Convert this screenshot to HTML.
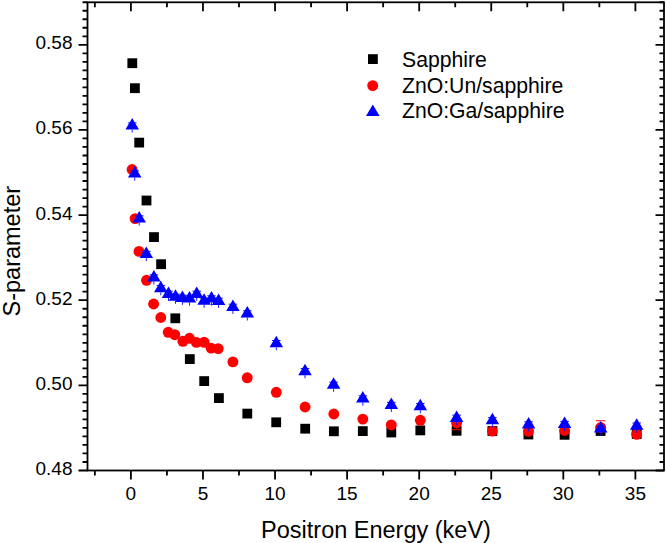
<!DOCTYPE html><html><head><meta charset="utf-8"><style>html,body{margin:0;padding:0;background:#fff;overflow:hidden}svg{display:block}text{font-family:"Liberation Sans",sans-serif;fill:#000}</style></head><body>
<svg width="666" height="543" viewBox="0 0 666 543">
<rect width="666" height="543" fill="#fff"/>
<path d="M78.50 470.50H87.50M664.00 470.50H655.50M82.50 461.99H87.50M664.00 461.99H659.50M82.50 453.47H87.50M664.00 453.47H659.50M82.50 444.96H87.50M664.00 444.96H659.50M82.50 436.44H87.50M664.00 436.44H659.50M82.50 427.93H87.50M664.00 427.93H659.50M82.50 419.42H87.50M664.00 419.42H659.50M82.50 410.90H87.50M664.00 410.90H659.50M82.50 402.39H87.50M664.00 402.39H659.50M82.50 393.87H87.50M664.00 393.87H659.50M78.50 385.36H87.50M664.00 385.36H655.50M82.50 376.85H87.50M664.00 376.85H659.50M82.50 368.33H87.50M664.00 368.33H659.50M82.50 359.82H87.50M664.00 359.82H659.50M82.50 351.30H87.50M664.00 351.30H659.50M82.50 342.79H87.50M664.00 342.79H659.50M82.50 334.28H87.50M664.00 334.28H659.50M82.50 325.76H87.50M664.00 325.76H659.50M82.50 317.25H87.50M664.00 317.25H659.50M82.50 308.73H87.50M664.00 308.73H659.50M78.50 300.22H87.50M664.00 300.22H655.50M82.50 291.71H87.50M664.00 291.71H659.50M82.50 283.19H87.50M664.00 283.19H659.50M82.50 274.68H87.50M664.00 274.68H659.50M82.50 266.16H87.50M664.00 266.16H659.50M82.50 257.65H87.50M664.00 257.65H659.50M82.50 249.14H87.50M664.00 249.14H659.50M82.50 240.62H87.50M664.00 240.62H659.50M82.50 232.11H87.50M664.00 232.11H659.50M82.50 223.59H87.50M664.00 223.59H659.50M78.50 215.08H87.50M664.00 215.08H655.50M82.50 206.57H87.50M664.00 206.57H659.50M82.50 198.05H87.50M664.00 198.05H659.50M82.50 189.54H87.50M664.00 189.54H659.50M82.50 181.02H87.50M664.00 181.02H659.50M82.50 172.51H87.50M664.00 172.51H659.50M82.50 164.00H87.50M664.00 164.00H659.50M82.50 155.48H87.50M664.00 155.48H659.50M82.50 146.97H87.50M664.00 146.97H659.50M82.50 138.45H87.50M664.00 138.45H659.50M78.50 129.94H87.50M664.00 129.94H655.50M82.50 121.43H87.50M664.00 121.43H659.50M82.50 112.91H87.50M664.00 112.91H659.50M82.50 104.40H87.50M664.00 104.40H659.50M82.50 95.88H87.50M664.00 95.88H659.50M82.50 87.37H87.50M664.00 87.37H659.50M82.50 78.86H87.50M664.00 78.86H659.50M82.50 70.34H87.50M664.00 70.34H659.50M82.50 61.83H87.50M664.00 61.83H659.50M82.50 53.31H87.50M664.00 53.31H659.50M78.50 44.80H87.50M664.00 44.80H655.50M82.50 36.29H87.50M664.00 36.29H659.50M82.50 27.77H87.50M664.00 27.77H659.50M82.50 19.26H87.50M664.00 19.26H659.50M82.50 10.74H87.50M664.00 10.74H659.50M82.50 2.23H87.50M664.00 2.23H659.50M94.87 470.50V475.50M94.87 2.30V7.30M130.90 470.50V479.50M130.90 2.30V11.30M166.94 470.50V475.50M166.94 2.30V7.30M202.97 470.50V479.50M202.97 2.30V11.30M239.00 470.50V475.50M239.00 2.30V7.30M275.04 470.50V479.50M275.04 2.30V11.30M311.07 470.50V475.50M311.07 2.30V7.30M347.11 470.50V479.50M347.11 2.30V11.30M383.14 470.50V475.50M383.14 2.30V7.30M419.18 470.50V479.50M419.18 2.30V11.30M455.22 470.50V475.50M455.22 2.30V7.30M491.25 470.50V479.50M491.25 2.30V11.30M527.28 470.50V475.50M527.28 2.30V7.30M563.32 470.50V479.50M563.32 2.30V11.30M599.36 470.50V475.50M599.36 2.30V7.30M635.39 470.50V479.50M635.39 2.30V11.30" stroke="#000" stroke-width="1.8" fill="none"/>
<rect x="87.50" y="2.30" width="576.50" height="468.20" fill="none" stroke="#000" stroke-width="1.8"/>
<text x="72.5" y="475.00" font-size="19" text-anchor="end">0.48</text>
<text x="72.5" y="389.86" font-size="19" text-anchor="end">0.50</text>
<text x="72.5" y="304.72" font-size="19" text-anchor="end">0.52</text>
<text x="72.5" y="219.58" font-size="19" text-anchor="end">0.54</text>
<text x="72.5" y="134.44" font-size="19" text-anchor="end">0.56</text>
<text x="72.5" y="49.30" font-size="19" text-anchor="end">0.58</text>
<text x="130.90" y="500.0" font-size="19" text-anchor="middle">0</text>
<text x="202.97" y="500.0" font-size="19" text-anchor="middle">5</text>
<text x="275.04" y="500.0" font-size="19" text-anchor="middle">10</text>
<text x="347.11" y="500.0" font-size="19" text-anchor="middle">15</text>
<text x="419.18" y="500.0" font-size="19" text-anchor="middle">20</text>
<text x="491.25" y="500.0" font-size="19" text-anchor="middle">25</text>
<text x="563.32" y="500.0" font-size="19" text-anchor="middle">30</text>
<text x="635.39" y="500.0" font-size="19" text-anchor="middle">35</text>
<text x="376" y="538.2" font-size="23.5" text-anchor="middle">Positron Energy (keV)</text>
<text transform="translate(19.8 251.2) rotate(-90)" x="0" y="0" font-size="23.5" text-anchor="middle">S-parameter</text>
<g fill="#000"><rect x="127.40" y="58.30" width="9.8" height="9.8"/><rect x="130.00" y="83.30" width="9.8" height="9.8"/><rect x="134.30" y="137.70" width="9.8" height="9.8"/><rect x="141.60" y="195.60" width="9.8" height="9.8"/><rect x="149.10" y="232.20" width="9.8" height="9.8"/><rect x="156.20" y="259.30" width="9.8" height="9.8"/><rect x="170.40" y="313.40" width="9.8" height="9.8"/><rect x="184.90" y="354.20" width="9.8" height="9.8"/><rect x="199.30" y="376.20" width="9.8" height="9.8"/><rect x="214.00" y="393.20" width="9.8" height="9.8"/><rect x="242.40" y="408.70" width="9.8" height="9.8"/><rect x="271.30" y="417.40" width="9.8" height="9.8"/><rect x="300.30" y="423.80" width="9.8" height="9.8"/><rect x="329.00" y="426.40" width="9.8" height="9.8"/><rect x="357.90" y="426.20" width="9.8" height="9.8"/><rect x="386.40" y="427.60" width="9.8" height="9.8"/><rect x="415.40" y="425.50" width="9.8" height="9.8"/><rect x="451.70" y="425.90" width="9.8" height="9.8"/><rect x="487.50" y="426.10" width="9.8" height="9.8"/><rect x="523.50" y="429.60" width="9.8" height="9.8"/><rect x="559.70" y="429.90" width="9.8" height="9.8"/><rect x="595.70" y="426.10" width="9.8" height="9.8"/><rect x="631.80" y="429.10" width="9.8" height="9.8"/></g>
<g fill="#f00"><circle cx="132.10" cy="169.50" r="5.45"/><circle cx="135.10" cy="218.60" r="5.45"/><circle cx="139.00" cy="251.40" r="5.45"/><circle cx="146.50" cy="280.30" r="5.45"/><circle cx="153.60" cy="304.00" r="5.45"/><circle cx="160.80" cy="317.50" r="5.45"/><circle cx="168.20" cy="332.30" r="5.45"/><circle cx="174.80" cy="334.70" r="5.45"/><circle cx="182.90" cy="341.30" r="5.45"/><circle cx="189.50" cy="338.30" r="5.45"/><circle cx="196.40" cy="342.40" r="5.45"/><circle cx="204.20" cy="342.30" r="5.45"/><circle cx="211.10" cy="348.10" r="5.45"/><circle cx="218.20" cy="348.60" r="5.45"/><circle cx="232.90" cy="361.90" r="5.45"/><circle cx="247.20" cy="377.80" r="5.45"/><circle cx="276.30" cy="392.30" r="5.45"/><circle cx="305.10" cy="407.00" r="5.45"/><circle cx="333.80" cy="414.00" r="5.45"/><circle cx="362.80" cy="419.10" r="5.45"/><circle cx="391.30" cy="424.90" r="5.45"/><circle cx="420.30" cy="420.30" r="5.45"/><circle cx="456.60" cy="423.00" r="5.45"/><circle cx="492.40" cy="431.10" r="5.45"/><circle cx="528.50" cy="431.30" r="5.45"/><circle cx="564.60" cy="430.40" r="5.45"/><circle cx="600.70" cy="427.50" r="5.45"/><circle cx="636.60" cy="434.30" r="5.45"/></g>
<path d="M132.20 129.60V132.60M127.90 122.90H136.50M134.70 177.60V180.60M130.40 170.90H139.00M139.20 222.50V225.50M134.90 215.80H143.50M146.30 258.10V261.10M142.00 251.40H150.60M153.90 281.50V284.50M149.60 274.80H158.20M160.80 292.30V295.30M156.50 285.60H165.10M168.50 297.90V300.90M164.20 291.20H172.80M175.50 300.80V303.80M171.20 294.10H179.80M182.40 301.90V304.90M178.10 295.20H186.70M189.50 302.60V305.60M185.20 295.90H193.80M196.70 297.90V300.90M192.40 291.20H201.00M204.10 304.80V307.80M199.80 298.10H208.40M211.50 302.50V305.50M207.20 295.80H215.80M218.60 304.90V307.90M214.30 298.20H222.90M232.90 310.90V313.90M228.60 304.20H237.20M247.30 317.50V320.50M243.00 310.80H251.60M276.30 347.20V350.20M272.00 340.50H280.60M305.00 375.20V378.20M300.70 368.50H309.30M333.60 388.80V391.80M329.30 382.10H337.90M362.80 402.50V405.50M358.50 395.80H367.10M391.30 409.00V412.00M387.00 402.30H395.60M420.30 410.30V413.30M416.00 403.60H424.60M456.60 421.90V424.90M452.30 415.20H460.90M492.40 424.30V427.30M488.10 417.60H496.70M528.60 428.50V431.50M524.30 421.80H532.90M564.60 428.10V431.10M560.30 421.40H568.90M600.70 432.60V435.60M596.40 425.90H605.00M636.70 429.70V432.70M632.40 423.00H641.00" stroke="#00f" stroke-width="0.9" fill="none"/>
<path d="M132.20 118.10L138.95 129.60H125.45ZM134.70 166.10L141.45 177.60H127.95ZM139.20 211.00L145.95 222.50H132.45ZM146.30 246.60L153.05 258.10H139.55ZM153.90 270.00L160.65 281.50H147.15ZM160.80 280.80L167.55 292.30H154.05ZM168.50 286.40L175.25 297.90H161.75ZM175.50 289.30L182.25 300.80H168.75ZM182.40 290.40L189.15 301.90H175.65ZM189.50 291.10L196.25 302.60H182.75ZM196.70 286.40L203.45 297.90H189.95ZM204.10 293.30L210.85 304.80H197.35ZM211.50 291.00L218.25 302.50H204.75ZM218.60 293.40L225.35 304.90H211.85ZM232.90 299.40L239.65 310.90H226.15ZM247.30 306.00L254.05 317.50H240.55ZM276.30 335.70L283.05 347.20H269.55ZM305.00 363.70L311.75 375.20H298.25ZM333.60 377.30L340.35 388.80H326.85ZM362.80 391.00L369.55 402.50H356.05ZM391.30 397.50L398.05 409.00H384.55ZM420.30 398.80L427.05 410.30H413.55ZM456.60 410.40L463.35 421.90H449.85ZM492.40 412.80L499.15 424.30H485.65ZM528.60 417.00L535.35 428.50H521.85ZM564.60 416.60L571.35 428.10H557.85ZM600.70 421.10L607.45 432.60H593.95ZM636.70 418.20L643.45 429.70H629.95Z" fill="#00f"/>
<path d="M596.0 420.7H605.4M451.9 429.8H461.3" stroke="#f00" stroke-width="1.1"/>
<rect x="368.00" y="54.20" width="9.8" height="9.8" fill="#000"/>
<circle cx="372.7" cy="85.6" r="5.45" fill="#f00"/>
<path d="M372.8 104.4L379.55 115.90H366.05Z" fill="#00f"/>
<text x="402" y="66.5" font-size="21.2">Sapphire</text>
<text x="402" y="92.5" font-size="21.2">ZnO:Un/sapphire</text>
<text x="402" y="118.2" font-size="21.2">ZnO:Ga/sapphire</text>
</svg></body></html>
